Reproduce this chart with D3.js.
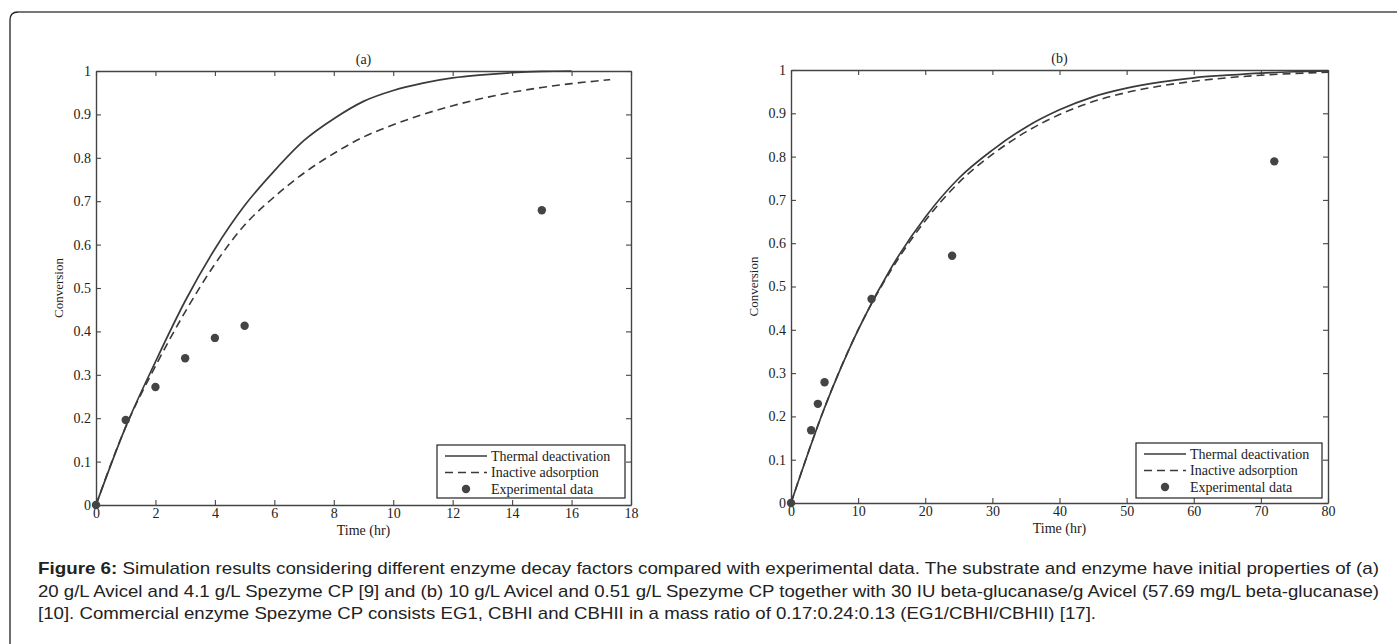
<!DOCTYPE html>
<html lang="en">
<head>
<meta charset="utf-8" />
<title>Figure 6 - enzyme decay</title>
<script src="https://cdn.jsdelivr.net/npm/d3@7"></script>
<style>
  body { margin: 0; background: #fff; }
  .tick text { font-family: "Liberation Serif", "Times New Roman", serif; font-size: 14px; fill: #222; }
  .lbl { font-family: "Liberation Serif", "Times New Roman", serif; fill: #222; }
  .cap { font-family: "Liberation Sans", Arial, sans-serif; font-size: 17px; fill: #222; }
</style>
</head>
<body>
<svg id="fig" width="1397" height="644"></svg>
<script>
// ---- data ----
// panel (a)
var timeA = [0, 1, 2, 3, 4, 5, 6, 7, 8, 9, 10, 11, 12, 13, 14, 15, 16];
var thermalA = [0, 0.18, 0.33, 0.47, 0.59, 0.69, 0.77, 0.84, 0.89, 0.93, 0.955, 0.972, 0.984, 0.991, 0.996, 0.999, 1.0];
var timeInactA = [0, 1, 2, 3, 4, 5, 6, 7, 8, 9, 10, 11, 12, 13, 14, 15, 16, 17, 17.3];
var inactiveA = [0, 0.18, 0.32, 0.445, 0.555, 0.645, 0.71, 0.765, 0.81, 0.848, 0.876, 0.9, 0.92, 0.937, 0.951, 0.962, 0.971, 0.978, 0.98];
var expTimeA = [0, 1, 2, 3, 4, 5, 15];
var expA = [0, 0.196, 0.272, 0.338, 0.385, 0.413, 0.679];
var xTicksA = [0, 2, 4, 6, 8, 10, 12, 14, 16, 18];

// panel (b)
var timeB = [0, 5, 10, 15, 20, 25, 30, 35, 40, 45, 50, 55, 60, 65, 70, 75, 80];
var thermalB = [0, 0.22, 0.40, 0.545, 0.66, 0.75, 0.815, 0.868, 0.908, 0.938, 0.958, 0.972, 0.982, 0.988, 0.993, 0.996, 0.998];
var inactiveB = [0, 0.22, 0.40, 0.54, 0.652, 0.74, 0.805, 0.857, 0.897, 0.927, 0.948, 0.963, 0.974, 0.982, 0.988, 0.992, 0.995];
var expTimeB = [0, 3, 4, 5, 12, 24, 72];
var expB = [0, 0.168, 0.229, 0.279, 0.471, 0.571, 0.789];
var xTicksB = [0, 10, 20, 30, 40, 50, 60, 70, 80];

var yTicks = [0, 0.1, 0.2, 0.3, 0.4, 0.5, 0.6, 0.7, 0.8, 0.9, 1];
var legendLabels = ["Thermal deactivation", "Inactive adsorption", "Experimental data"];

var captionLines = [
  ["Figure 6:", " Simulation results considering different enzyme decay factors compared with experimental data. The substrate and enzyme have initial properties of (a)"],
  ["", "20 g/L Avicel and 4.1 g/L Spezyme CP [9] and (b) 10 g/L Avicel and 0.51 g/L Spezyme CP together with 30 IU beta-glucanase/g Avicel (57.69 mg/L beta-glucanase)"],
  ["", "[10]. Commercial enzyme Spezyme CP consists EG1, CBHI and CBHII in a mass ratio of 0.17:0.24:0.13 (EG1/CBHI/CBHII) [17]."]
];

var svg = d3.select("#fig");
var ink = "#3a3a3a";

// page frame (rounded corner, top-left only visible)
svg.append("path").attr("d", "M10,644 V20 Q10,12 18,12").attr("fill", "none").attr("stroke", "#222").attr("stroke-width", 1.3);
svg.append("path").attr("d", "M18,12 H1397").attr("fill", "none").attr("stroke", "#777").attr("stroke-width", 2);

function zip(a, b) { return a.map(function(d, i) { return [d, b[i]]; }); }
function fmtY(d) { return String(+d.toFixed(1)); }

function panel(opt) {
  var x = d3.scaleLinear().domain(opt.xDomain).range([opt.left, opt.right]);
  var y = d3.scaleLinear().domain([0, 1]).range([opt.bottom, opt.top]);
  var g = svg.append("g");

  // axes box with inward ticks (matlab-ish)
  var axB = g.append("g").attr("transform", "translate(0," + opt.bottom + ")")
    .call(d3.axisBottom(x).tickValues(opt.xTicks).tickSizeInner(-5).tickSizeOuter(0).tickPadding(3));
  var axT = g.append("g").attr("transform", "translate(0," + opt.top + ")")
    .call(d3.axisTop(x).tickValues(opt.xTicks).tickSizeInner(-5).tickSizeOuter(0).tickFormat(""));
  var axL = g.append("g").attr("transform", "translate(" + opt.left + ",0)")
    .call(d3.axisLeft(y).tickValues(yTicks).tickSizeInner(-5).tickSizeOuter(0).tickPadding(5).tickFormat(fmtY));
  var axR = g.append("g").attr("transform", "translate(" + opt.right + ",0)")
    .call(d3.axisRight(y).tickValues(yTicks).tickSizeInner(-5).tickSizeOuter(0).tickFormat(""));
  [axB, axT, axL, axR].forEach(function(a) {
    a.select(".domain").attr("stroke", "#444").attr("stroke-width", 1.4);
    a.selectAll(".tick line").attr("stroke", "#444").attr("stroke-width", 1.1);
  });

  // curves
  var line = d3.line().x(function(d) { return x(d[0]); }).y(function(d) { return y(d[1]); }).curve(d3.curveMonotoneX);
  g.append("path").datum(zip(opt.tInact, opt.inactive)).attr("d", line)
    .attr("fill", "none").attr("stroke", ink).attr("stroke-width", 1.6).attr("stroke-dasharray", "8,5");
  g.append("path").datum(zip(opt.tTherm, opt.thermal)).attr("d", line)
    .attr("fill", "none").attr("stroke", ink).attr("stroke-width", 1.7);

  g.selectAll("circle.exp").data(zip(opt.expT, opt.exp)).enter().append("circle")
    .attr("class", "exp")
    .attr("cx", function(d) { return x(d[0]); })
    .attr("cy", function(d) { return y(d[1]); })
    .attr("r", 4.2).attr("fill", "#444");

  // titles and labels
  var cx = (opt.left + opt.right) / 2;
  g.append("text").attr("class", "lbl").attr("x", cx).attr("y", opt.top - 7)
    .attr("text-anchor", "middle").attr("font-size", 14).text(opt.title);
  g.append("text").attr("class", "lbl").attr("x", cx).attr("y", opt.bottom + 30)
    .attr("text-anchor", "middle").attr("font-size", 14).text("Time (hr)");
  g.append("text").attr("class", "lbl")
    .attr("transform", "translate(" + (opt.left - 33) + "," + ((opt.top + opt.bottom) / 2) + ") rotate(-90)")
    .attr("text-anchor", "middle").attr("font-size", 13).text("Conversion");

  // legend
  var lg = g.append("g");
  lg.append("rect").attr("x", opt.legX).attr("y", opt.legY).attr("width", opt.legW).attr("height", opt.legH)
    .attr("fill", "#fff").attr("stroke", "#222").attr("stroke-width", 1.2);
  legendLabels.forEach(function(lab, i) {
    var ry = opt.legY + 11 + i * 16.5;
    var sx = opt.legX + 8;
    if (i === 0) {
      lg.append("line").attr("x1", sx).attr("x2", sx + 42).attr("y1", ry).attr("y2", ry)
        .attr("stroke", ink).attr("stroke-width", 1.7);
    } else if (i === 1) {
      lg.append("line").attr("x1", sx).attr("x2", sx + 42).attr("y1", ry).attr("y2", ry)
        .attr("stroke", ink).attr("stroke-width", 1.6).attr("stroke-dasharray", "8,5");
    } else {
      lg.append("circle").attr("cx", sx + 21).attr("cy", ry).attr("r", 4.2).attr("fill", "#444");
    }
    lg.append("text").attr("class", "lbl").attr("x", sx + 46).attr("y", ry + 4.5)
      .attr("font-size", 14).text(lab);
  });
}

panel({
  title: "(a)", left: 96, right: 631, top: 71, bottom: 505,
  xDomain: [0, 18], xTicks: xTicksA,
  tTherm: timeA, thermal: thermalA, tInact: timeInactA, inactive: inactiveA,
  expT: expTimeA, exp: expA,
  legX: 437, legY: 445, legW: 188, legH: 53
});

panel({
  title: "(b)", left: 791, right: 1328, top: 70, bottom: 503,
  xDomain: [0, 80], xTicks: xTicksB,
  tTherm: timeB, thermal: thermalB, tInact: timeB, inactive: inactiveB,
  expT: expTimeB, exp: expB,
  legX: 1136, legY: 443, legW: 186, legH: 55
});

// caption
var capWidths = [1341, 1341, 1058];
captionLines.forEach(function(parts, i) {
  var t = svg.append("text").attr("class", "cap").attr("x", 38).attr("y", 574 + i * 22.5)
    .attr("textLength", capWidths[i]).attr("lengthAdjust", "spacingAndGlyphs");
  if (parts[0]) t.append("tspan").attr("font-weight", "bold").text(parts[0]);
  t.append("tspan").text(parts[1]);
});
</script>
</body>
</html>
